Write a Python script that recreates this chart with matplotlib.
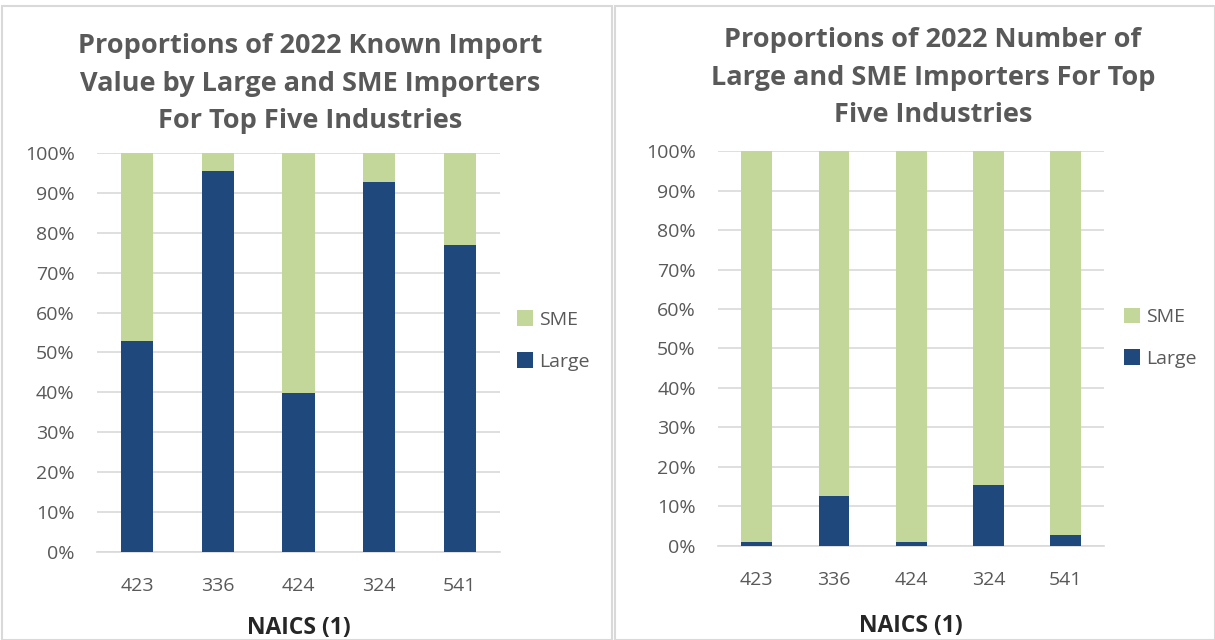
import numpy as np
import matplotlib.pyplot as plt
from matplotlib.patches import Rectangle

plt.rcParams['font.family'] = ['Open Sans', 'DejaVu Sans']

naics = ['423', '336', '424', '324', '541']
value_large = [52.9, 95.5, 39.8, 92.6, 76.9]
count_large = [1.0, 12.7, 1.0, 15.5, 2.7]

titles = ['Proportions of 2022 Known Import\nValue by Large and SME Importers\nFor Top Five Industries',
          'Proportions of 2022 Number of\nLarge and SME Importers For Top\nFive Industries']

dark = '#1f497d'
light = '#c4d79b'
gray = '#595959'

fig = plt.figure(figsize=(12.15, 6.4), dpi=100)

# panel frames
fig.patches.append(Rectangle((2 / 1215, 0), 610 / 1215, 634 / 640, transform=fig.transFigure,
                             fill=False, edgecolor='#d9d9d9', linewidth=1.5))
fig.patches.append(Rectangle((615 / 1215, 0), 600 / 1215, 634 / 640, transform=fig.transFigure,
                             fill=False, edgecolor='#d9d9d9', linewidth=1.5))

axes_pos = [[0.0798, 0.1375, 0.3317, 0.6235], [0.591, 0.147, 0.318, 0.617]]
title_x = [310 / 1215, 933 / 1215]
title_y = [1 - 33 / 640, 1 - 27 / 640]
xtick_pad = [18, 18]
xlabel_pad = [15, 18]
legend_anchor = [(0.998, 0.53), (1.005, 0.527)]

for i, large in enumerate([value_large, count_large]):
    ax = fig.add_axes(axes_pos[i])
    large = np.array(large)
    sme = 100 - large
    x = np.arange(len(naics))
    ax.bar(x, large, width=0.4, color=dark, label='Large', zorder=3)
    ax.bar(x, sme, width=0.4, bottom=large, color=light, label='SME', zorder=3)
    ax.set_ylim(0, 100)
    ax.set_xlim(-0.5, 4.5)
    ax.set_yticks(np.arange(0, 101, 10))
    ax.set_yticklabels([f'{v}%' for v in range(0, 101, 10)])
    ax.set_xticks(x)
    ax.set_xticklabels(naics)
    ax.grid(axis='y', color='#d9d9d9', linewidth=1.2, zorder=0)
    for s in ['top', 'right', 'left']:
        ax.spines[s].set_visible(False)
    ax.spines['bottom'].set_color('#d9d9d9')
    ax.spines['bottom'].set_linewidth(1.2)
    ax.tick_params(length=0, labelsize=14, colors=gray)
    ax.tick_params(axis='y', pad=16)
    ax.tick_params(axis='x', pad=xtick_pad[i])
    ax.set_xlabel('NAICS (1)', fontsize=16.5, fontweight='bold', color='#262626', labelpad=xlabel_pad[i])
    handles, labels = ax.get_legend_handles_labels()
    ax.legend(handles[::-1], labels[::-1], loc='center left', bbox_to_anchor=legend_anchor[i],
              frameon=False, fontsize=14, labelcolor=gray, handlelength=0.85, handleheight=0.85,
              labelspacing=1.2, handletextpad=0.3)
    fig.text(title_x[i], title_y[i], titles[i], ha='center', va='top', fontsize=19.5,
             fontweight='bold', color=gray, linespacing=1.58)

plt.savefig('out.png', dpi=100)
